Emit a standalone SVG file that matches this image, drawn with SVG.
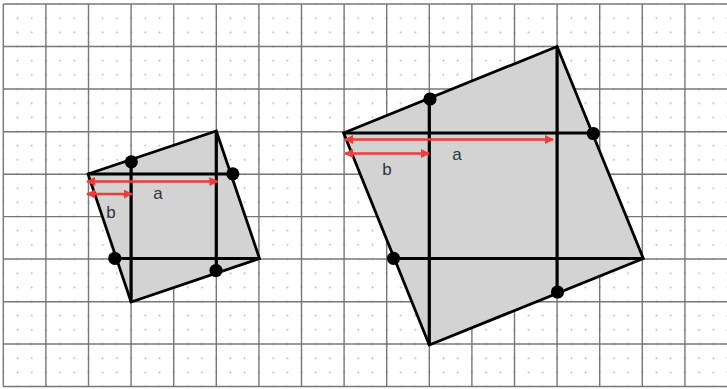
<svg xmlns="http://www.w3.org/2000/svg" width="727" height="389" viewBox="0 0 727 389">
  <defs>
    <pattern id="dots" patternUnits="userSpaceOnUse" x="-3.8" y="-3.08" width="14.2" height="14.1667">
      <circle cx="7.1" cy="7.08" r="1" fill="#b8b8b8"/>
    </pattern>
    <marker id="ah" viewBox="0 0 10 10" refX="9" refY="5" markerWidth="9" markerHeight="9" markerUnits="userSpaceOnUse" orient="auto-start-reverse">
      <path d="M0,0 L10,5 L0,10 Z" fill="#ee3b3b"/>
    </marker>
  </defs>
  <style>
    .grid line { stroke: #777; stroke-width: 1.4; }
    .shape { fill: #d3d3d3; stroke: #000; stroke-width: 2.8; stroke-linejoin: miter; }
    .seg { stroke: #000; stroke-width: 3.2; fill: none; }
    .dot { fill: #000; }
    .arr { stroke: #ee3b3b; stroke-width: 2.6; fill: none; marker-start: url(#ah); marker-end: url(#ah); }
    .lbl { font-family: "Liberation Sans", Arial, sans-serif; font-size: 17px; fill: #333; text-anchor: middle; }
  </style>
  <rect x="0" y="0" width="727" height="389" fill="#fff"/>
  <rect x="3.3" y="4" width="724" height="382.5" fill="url(#dots)"/>
  <g class="grid">
    <line x1="3.3" y1="4" x2="3.3" y2="386.5"/>
    <line x1="45.9" y1="4" x2="45.9" y2="386.5"/>
    <line x1="88.5" y1="4" x2="88.5" y2="386.5"/>
    <line x1="131.1" y1="4" x2="131.1" y2="386.5"/>
    <line x1="173.7" y1="4" x2="173.7" y2="386.5"/>
    <line x1="216.3" y1="4" x2="216.3" y2="386.5"/>
    <line x1="258.9" y1="4" x2="258.9" y2="386.5"/>
    <line x1="301.5" y1="4" x2="301.5" y2="386.5"/>
    <line x1="344.1" y1="4" x2="344.1" y2="386.5"/>
    <line x1="386.7" y1="4" x2="386.7" y2="386.5"/>
    <line x1="429.3" y1="4" x2="429.3" y2="386.5"/>
    <line x1="471.9" y1="4" x2="471.9" y2="386.5"/>
    <line x1="514.5" y1="4" x2="514.5" y2="386.5"/>
    <line x1="557.1" y1="4" x2="557.1" y2="386.5"/>
    <line x1="599.7" y1="4" x2="599.7" y2="386.5"/>
    <line x1="642.3" y1="4" x2="642.3" y2="386.5"/>
    <line x1="684.9" y1="4" x2="684.9" y2="386.5"/>
    <line x1="3.3" y1="4" x2="727" y2="4"/>
    <line x1="3.3" y1="46.5" x2="727" y2="46.5"/>
    <line x1="3.3" y1="89" x2="727" y2="89"/>
    <line x1="3.3" y1="131.8" x2="727" y2="131.8"/>
    <line x1="3.3" y1="174.2" x2="727" y2="174.2"/>
    <line x1="3.3" y1="216.6" x2="727" y2="216.6"/>
    <line x1="3.3" y1="259" x2="727" y2="259"/>
    <line x1="3.3" y1="301.8" x2="727" y2="301.8"/>
    <line x1="3.3" y1="344" x2="727" y2="344"/>
    <line x1="3.3" y1="386.5" x2="727" y2="386.5"/>
  </g>
  <g id="small-square">
    <polygon class="shape" points="88,174 216.3,131 259.5,258.5 131.1,302"/>
    <line class="seg" x1="88" y1="174" x2="231" y2="174"/>
    <line class="seg" x1="116.5" y1="258.5" x2="259.5" y2="258.5"/>
    <line class="seg" x1="131.1" y1="160.5" x2="131.1" y2="302"/>
    <line class="seg" x1="216.3" y1="131" x2="216.3" y2="272.5"/>
    <circle class="dot" cx="131.3" cy="161.8" r="6.6"/>
    <circle class="dot" cx="232.8" cy="173.8" r="6.6"/>
    <circle class="dot" cx="114.8" cy="258.3" r="6.6"/>
    <circle class="dot" cx="216" cy="270.5" r="6.6"/>
  </g>
  <g id="large-square">
    <polygon class="shape" points="343.6,133 557.1,46.5 643.3,258.5 429.3,345"/>
    <line class="seg" x1="343.6" y1="133" x2="592" y2="133"/>
    <line class="seg" x1="395" y1="258.5" x2="643.3" y2="258.5"/>
    <line class="seg" x1="429.3" y1="97.5" x2="429.3" y2="345"/>
    <line class="seg" x1="557.1" y1="46.5" x2="557.1" y2="293"/>
    <circle class="dot" cx="430" cy="99" r="6.6"/>
    <circle class="dot" cx="593.3" cy="133.5" r="6.6"/>
    <circle class="dot" cx="393.5" cy="258.3" r="6.6"/>
    <circle class="dot" cx="557.5" cy="292" r="6.6"/>
  </g>
  <g id="connectors">
    <line class="arr" x1="87" y1="181.5" x2="217.5" y2="181.5"/>
    <line class="arr" x1="87" y1="194" x2="132" y2="194"/>
    <line class="arr" x1="345" y1="139.5" x2="553" y2="139.5"/>
    <line class="arr" x1="345" y1="153.5" x2="429" y2="153.5"/>
  </g>
  <g id="labels">
    <text class="lbl" x="158" y="199">a</text>
    <text class="lbl" x="111" y="218">b</text>
    <text class="lbl" x="457" y="160">a</text>
    <text class="lbl" x="387" y="174.5">b</text>
  </g>
</svg>
